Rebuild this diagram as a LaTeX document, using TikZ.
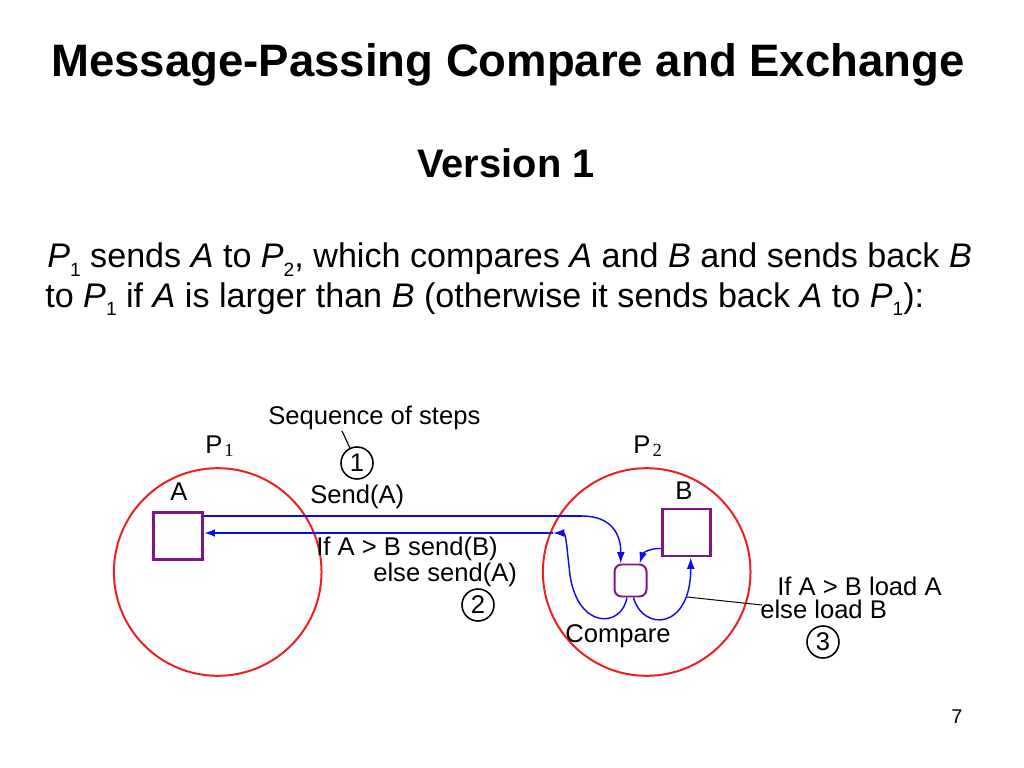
\documentclass[tikz,border=0pt]{standalone}
\usepackage{fontspec}
\setmainfont{Liberation Sans}
\newfontfamily\subserif{Liberation Serif}
\usetikzlibrary{arrows.meta}
\definecolor{procred}{RGB}{240,30,30}
\definecolor{regpurple}{RGB}{128,20,140}
\definecolor{msgblue}{RGB}{10,10,235}
\newcommand{\psub}[1]{\raisebox{-6pt}{\fontsize{13.5}{13.5}\selectfont #1}}
\newcommand{\dsub}[1]{\kern1.5pt\raisebox{-2.8pt}{\subserif\fontsize{13}{13}\selectfont #1}}

\begin{document}
\begin{tikzpicture}[x=0.703125pt, y=-0.703125pt,
    proc/.style={circle, draw=procred, line width=1.4pt, minimum size=146pt, inner sep=0pt},
    reg/.style={draw=regpurple, line width=2pt, minimum width=34pt, minimum height=33pt, inner sep=0pt},
    cmpbox/.style={draw=regpurple, line width=1.4pt, rounded corners=5pt, minimum size=22.5pt, inner sep=0pt},
    stepno/.style={circle, draw, line width=1.1pt, minimum size=22.5pt, inner sep=0pt, font=\fontsize{18}{18}\selectfont},
    lbl/.style={anchor=base west, inner sep=0pt, font=\fontsize{18}{21}\selectfont},
    msg/.style={draw=msgblue, line width=2.1pt},
    flow/.style={draw=msgblue, line width=1pt},
    tip/.style={-{Latex[length=8pt,width=5.5pt]}}]
        \useasboundingbox[fill=white] (0,0) rectangle (1024,768);
        \node (title) [anchor=base, inner sep=0pt, font=\fontsize{32}{38}\selectfont\bfseries] at (508,77) {Message-Passing Compare and Exchange};
        \node (vers) [anchor=base, inner sep=0pt, font=\fontsize{28}{34}\selectfont\bfseries] at (506,178) {Version 1};
        \node (txt1) [anchor=base west, inner sep=0pt, font=\fontsize{24}{29}\selectfont] at (47,268) {\textit{P}\psub{1} sends \textit{A} to \textit{P}\psub{2}, which compares \textit{A} and \textit{B} and sends back \textit{B}};
        \node (txt2) [anchor=base west, inner sep=0pt, font=\fontsize{24}{29}\selectfont] at (45,307) {to \textit{P}\psub{1} if \textit{A} is larger than \textit{B} (otherwise it sends back \textit{A} to \textit{P}\psub{1}):};
        \node (page) [anchor=base, inner sep=0pt, font=\fontsize{14}{17}\selectfont] at (957,723) {7};

        \node (P1) [proc] at (217.7,572) {};
        \node (P2) [proc] at (646.7,572) {};
        \node (P1lbl) [lbl] at (205,453) {P\dsub{1}};
        \node (P2lbl) [lbl] at (633,453) {P\dsub{2}};
        \node (Albl) [lbl] at (170,500) {A};
        \node (Blbl) [lbl] at (675,499) {B};
        \node (Abox) [reg] at (178,536) {};
        \node (Bbox) [reg] at (686.5,532.5) {};
        \node (cmp) [cmpbox] at (630.5,580.5) {};
        \node (cmplbl) [lbl] at (565,642) {Compare};

        \node (seq) [lbl] at (268,424) {Sequence of steps};
        \node (c1) [stepno] at (357,463) {1};
        \node (send) [lbl] at (310,503) {Send(A)};
        \node (ret1) [lbl] at (316,555) {If A > B send(B)};
        \node (ret2) [lbl] at (373,581) {else send(A)};
        \node (c2) [stepno] at (478,605) {2};
        \node (ld1) [lbl] at (777,595) {If A > B load A};
        \node (ld2) [lbl] at (760,618) {else load B};
        \node (c3) [stepno] at (823,642) {3};

        \coordinate (seqtip) at (342,431);
        \coordinate (s1) at (582,516);
        \coordinate (r1) at (553,533);
        \coordinate (lp) at (687,597);
        \coordinate (lq) at (762,605);

        \draw [line width=0.8pt] (seqtip) -- (c1);
        \draw [msg] (Abox.east |- s1) -- (s1);
        \draw [flow, tip] (s1) .. controls (612,516) and (621,535) .. (cmp.120);
        \draw [flow, tip] (cmp.-102) .. controls (622,628) and (578,630) .. (570,575) .. controls (567,550) and (566,533) .. (r1);
        \draw [msg, tip] (r1) -- (Abox.east |- r1);
        \draw [flow, tip] (Bbox.212) .. controls (650,548) and (643,553) .. (cmp.62);
        \draw [flow, tip] (cmp.-80) .. controls (643,632) and (691,630) .. (Bbox.south -| 690.7,0);
        \draw [line width=0.7pt] (lp) -- (lq);
\end{tikzpicture}
\end{document}
